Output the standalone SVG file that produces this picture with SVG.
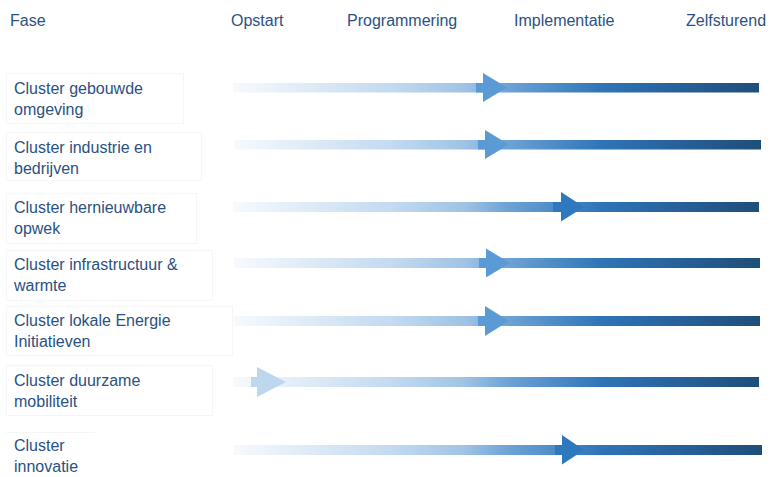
<svg xmlns="http://www.w3.org/2000/svg" width="770" height="477" viewBox="0 0 770 477">
<defs>
<linearGradient id="bar" gradientUnits="userSpaceOnUse" x1="233" y1="0" x2="760" y2="0">
<stop offset="0" stop-color="#f7fafd"/>
<stop offset="0.12" stop-color="#e2edf8"/>
<stop offset="0.3" stop-color="#c3daf0"/>
<stop offset="0.44" stop-color="#9fc3e6"/>
<stop offset="0.52" stop-color="#6ea3d6"/>
<stop offset="0.7" stop-color="#2e75b6"/>
<stop offset="0.85" stop-color="#27609a"/>
<stop offset="1" stop-color="#1f4e79"/>
</linearGradient>
</defs>
<style>
text{font-family:"Liberation Sans",Arial,sans-serif;font-size:16px;fill:#2a5182}
.box{fill:#ffffff;stroke:#f6f6f6;stroke-width:1}
.bar{fill:url(#bar)}
.hA{fill:#5b9bd5}
.hB{fill:#2e78bd}
.hC{fill:#bdd7ee}
</style>
<rect width="770" height="477" fill="#ffffff"/>
<g id="header">
<text x="10" y="26">Fase</text>
<text x="231" y="26">Opstart</text>
<text x="347" y="26">Programmering</text>
<text x="514" y="26">Implementatie</text>
<text x="686" y="26">Zelfsturend</text>
</g>
<g id="labels">
<g id="label1"><rect class="box" x="6.5" y="73.5" width="177" height="50"/><text x="14" y="94">Cluster gebouwde</text><text x="14" y="115">omgeving</text></g>
<g id="label2"><rect class="box" x="6.5" y="132.5" width="195" height="48"/><text x="14" y="153">Cluster industrie en</text><text x="14" y="174">bedrijven</text></g>
<g id="label3"><rect class="box" x="6.5" y="193.5" width="190" height="50"/><text x="14" y="213">Cluster hernieuwbare</text><text x="14" y="234">opwek</text></g>
<g id="label4"><rect class="box" x="6.5" y="250.5" width="206" height="50"/><text x="14" y="270">Cluster infrastructuur &amp;</text><text x="14" y="291">warmte</text></g>
<g id="label5"><rect class="box" x="6.5" y="306.5" width="226" height="49"/><text x="14" y="326">Cluster lokale Energie</text><text x="14" y="347">Initiatieven</text></g>
<g id="label6"><rect class="box" x="6.5" y="365.5" width="206" height="50"/><text x="14" y="386">Cluster duurzame</text><text x="14" y="407">mobiliteit</text></g>
<g id="label7"><line x1="6" y1="432.5" x2="95" y2="432.5" stroke="#f6f6f6"/><text x="14" y="451">Cluster</text><text x="14" y="472">innovatie</text></g>
</g>
<g id="connectors">
<g id="arrow1"><rect class="bar" x="233" y="83" width="526" height="9.5"/><rect class="hA" x="476" y="83" width="8" height="9.5"/><polygon class="hA" points="483,73 507,87.5 483,102"/></g>
<g id="arrow2"><rect class="bar" x="234" y="140" width="527" height="9.5"/><rect class="hA" x="478" y="140" width="8" height="9.5"/><polygon class="hA" points="485,130 509,144.5 485,159"/></g>
<g id="arrow3"><rect class="bar" x="233" y="202" width="526" height="10"/><rect class="hB" x="553" y="202" width="9" height="10"/><polygon class="hB" points="561,192 584,207 561,221.5"/></g>
<g id="arrow4"><rect class="bar" x="234" y="258" width="526" height="10"/><rect class="hA" x="479" y="258" width="8" height="10"/><polygon class="hA" points="486,248.5 510,263 486,277.5"/></g>
<g id="arrow5"><rect class="bar" x="234" y="316" width="526" height="10"/><rect class="hA" x="478" y="316" width="8" height="10"/><polygon class="hA" points="485,306 509,321 485,336"/></g>
<g id="arrow6"><rect class="bar" x="233" y="377" width="526" height="10"/><rect class="hC" x="251" y="377" width="7" height="10"/><polygon class="hC" points="257,367 286,382 257,397"/></g>
<g id="arrow7"><rect class="bar" x="234" y="445" width="528" height="10"/><rect class="hB" x="555" y="445" width="8" height="10"/><polygon class="hB" points="562,435 584,450 562,464.5"/></g>
</g>
</svg>
